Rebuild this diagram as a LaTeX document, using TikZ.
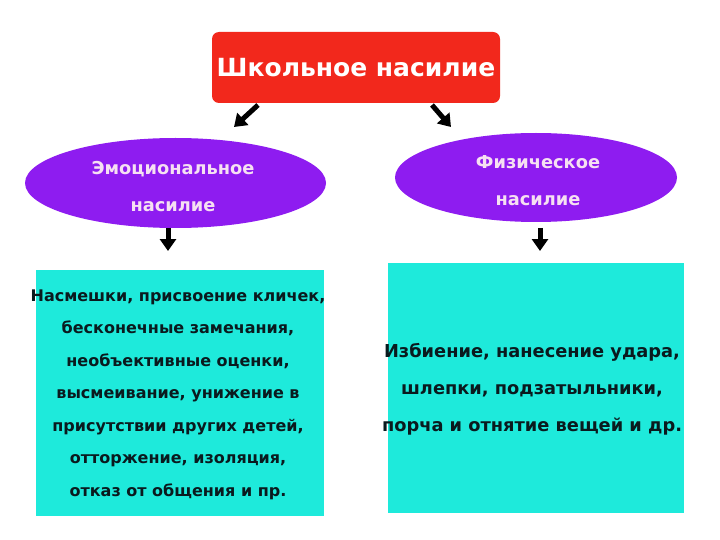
\documentclass[tikz,border=0pt]{standalone}
\usepackage{fontspec}
\setmainfont{DejaVu Sans}
\usetikzlibrary{arrows.meta,shapes.geometric}
\definecolor{redbox}{HTML}{F2281C}
\definecolor{purp}{HTML}{8E1CF0}
\definecolor{cyanbox}{HTML}{1EEADB}
\definecolor{pinktext}{HTML}{F6E0F2}
\definecolor{darktext}{HTML}{0A1A1E}
\tikzset{
  arr/.style={line width=5pt,-{Triangle[length=12pt,width=16pt]},black},
  oval/.style={ellipse,fill=purp,inner sep=0pt},
  ovaltext/.style={text=pinktext,font=\bfseries\fontsize{17.8}{37}\selectfont,align=center},
  cbox/.style={fill=cyanbox,inner sep=0pt},
  boxtext/.style={text=darktext,font=\bfseries\fontsize{16}{32.5}\selectfont,align=center}
}
\begin{document}
\begin{tikzpicture}[x=1pt,y=-1pt]
\useasboundingbox (0,0) rectangle (720,540);
% title
\node[fill=redbox,rounded corners=7pt,minimum width=288pt,minimum height=71pt,inner sep=0pt,
  text=white,font=\bfseries\fontsize{25}{30}\selectfont] (title) at (356,67.5) {Школьное насилие};
% ellipses
\node[oval,minimum width=301pt,minimum height=90pt] (emo) at (175.5,183) {};
\node[ovaltext] (emot) at (173,186.5) {Эмоциональное\\насилие};
\node[oval,minimum width=282pt,minimum height=89pt] (phys) at (536,177.5) {};
\node[ovaltext] (physt) at (538,180.5) {Физическое\\насилие};
% boxes
\node[cbox,minimum width=288pt,minimum height=246pt] (emobox) at (180,393) {};
\node[boxtext] (emoboxt) at (178,394.5) {Насмешки, присвоение кличек,\\бесконечные замечания,\\необъективные оценки,\\высмеивание, унижение в\\присутствии других детей,\\отторжение, изоляция,\\отказ от общения и пр.};
\node[cbox,minimum width=296pt,minimum height=250pt] (physbox) at (536,388) {};
\node[boxtext,font=\bfseries\fontsize{17.8}{37}\selectfont] (physboxt) at (532,389.5) {Избиение, нанесение удара,\\шлепки, подзатыльники,\\порча и отнятие вещей и др.};
% arrows
\coordinate (a1s) at (258,105);
\coordinate (a1e) at (234,127);
\coordinate (a2s) at (432,105);
\coordinate (a2e) at (451,127);
\draw[arr] (a1s) -- (a1e);
\draw[arr] (a2s) -- (a2e);
\coordinate (d1s) at (168,228);
\coordinate (d1e) at (168,251);
\coordinate (d2s) at (540,228);
\coordinate (d2e) at (540,251);
\draw[arr] (d1s) -- (d1e);
\draw[arr] (d2s) -- (d2e);
\end{tikzpicture}
\end{document}
